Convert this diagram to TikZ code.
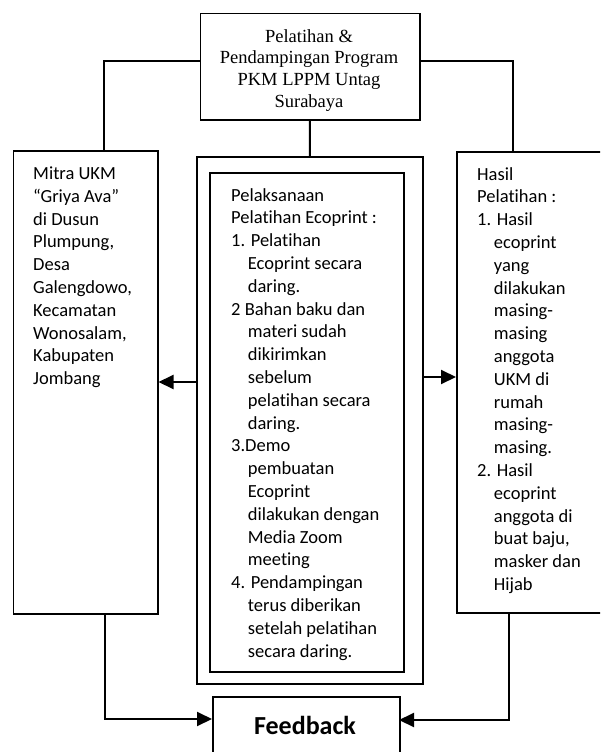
\documentclass[tikz,border=0pt]{standalone}
\usepackage{fontspec}
\setmainfont{Carlito}[RawFeature={-liga;-clig;-calt;-dlig}]
\newfontfamily\serifbox{Liberation Serif}
\usetikzlibrary{arrows.meta}
\newcommand{\ind}{\hspace*{16.7pt}}
\begin{document}
\begin{tikzpicture}[x=1pt,y=-1pt,
  box/.style={draw, line width=1.5pt, inner sep=0pt, anchor=north west},
  txt/.style={anchor=north west, inner sep=0pt, align=left, font=\fontsize{18.5}{22.8}\selectfont},
  conn/.style={line width=2pt},
  arr/.style={conn, -{Triangle[length=15pt,width=14pt]}}]
\useasboundingbox (0,0) rectangle (600,752);
\clip (0,0) rectangle (600,752);
% boxes
\node[box, minimum width=219.5pt, minimum height=106pt] (top) at (199.5,13) {};
\node[box, minimum width=144.3pt, minimum height=463pt] (left) at (12.7,150) {};
\node[box, minimum width=226pt, minimum height=527pt] (mid) at (196,156) {};
\node[box, minimum width=194pt, minimum height=499pt] (inner) at (209,172) {};
\node[box, minimum width=160pt, minimum height=461pt] (right) at (456,151) {};
\node[box, minimum width=187pt, minimum height=80pt] (fb) at (212,696) {};
% texts
\node[anchor=north, align=center, inner sep=0pt, font=\serifbox\fontsize{18.5}{21.7}\selectfont] (toptext) at (309,29)
  {Pelatihan \&\\Pendampingan Program\\PKM LPPM Untag\\Surabaya};
\node[txt] (lefttext) at (33,166.5)
  {Mitra UKM\\“Griya Ava”\\di Dusun\\Plumpung,\\Desa\\Galengdowo,\\Kecamatan\\Wonosalam,\\Kabupaten\\Jombang};
\node[txt] (midtext) at (231,188)
  {Pelaksanaan\\Pelatihan Ecoprint :\\1. Pelatihan\\\ind Ecoprint secara\\\ind daring.\\2 Bahan baku dan\\\ind materi sudah\\\ind dikirimkan\\\ind sebelum\\\ind pelatihan secara\\\ind daring.\\3.Demo\\\ind pembuatan\\\ind Ecoprint\\\ind dilakukan dengan\\\ind Media Zoom\\\ind meeting\\4. Pendampingan\\\ind terus diberikan\\\ind setelah pelatihan\\\ind secara daring.};
\node[txt] (righttext) at (477,167)
  {Hasil\\Pelatihan :\\1. Hasil\\\ind ecoprint\\\ind yang\\\ind dilakukan\\\ind masing-\\\ind masing\\\ind anggota\\\ind UKM di\\\ind rumah\\\ind masing-\\\ind masing.\\2. Hasil\\\ind ecoprint\\\ind anggota di\\\ind buat baju,\\\ind masker dan\\\ind Hijab};
\node[inner sep=0pt, font=\bfseries\fontsize{26}{30}\selectfont] (fbtext) at (305,725) {Feedback};
% connector coordinates
\coordinate (lt) at (104,150);
\coordinate (rt) at (513,151);
\coordinate (ml) at (196,382);
\coordinate (mr) at (422,377);
\coordinate (lb) at (105,613);
\coordinate (rb) at (509,612);
\coordinate (fbl) at (212,719);
\coordinate (fbr) at (399,720);
% connectors
\draw[conn] ([yshift=6pt]top.west) -| (lt);
\draw[conn] ([yshift=6pt]top.east) -| (rt);
\draw[conn] (top.south) -- (mid.north);
\draw[arr] (ml) -- (ml -| left.east);
\draw[arr] (mr) -- (mr -| right.west);
\draw[arr] (lb) |- (fbl);
\draw[arr] (rb) |- (fbr);
\end{tikzpicture}
\end{document}
